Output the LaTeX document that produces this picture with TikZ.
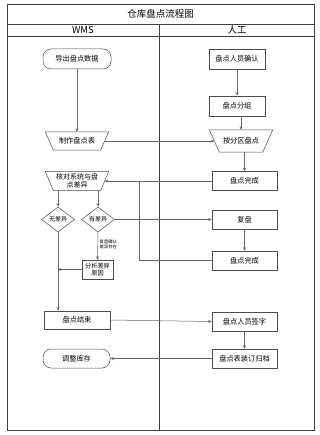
\documentclass[tikz,border=0pt]{standalone}
\usepackage{fontspec}
\setmainfont{Noto Sans CJK SC}
\usetikzlibrary{calc,arrows.meta,shapes.geometric}
\tikzset{
  frameline/.style={draw=black!75, line width=0.6pt},
  shapeline/.style={draw=black!70, line width=0.5pt},
  box/.style={shapeline, rectangle, minimum width=65pt, minimum height=19pt, inner sep=1pt, font=\fontsize{7.2}{8}\selectfont, align=center},
  stadium/.style={box, rounded corners=8pt},
  trap/.style={rectangle, minimum width=63pt, minimum height=18pt, inner sep=0pt, font=\fontsize{7.2}{8}\selectfont, align=center},
  dia/.style={shapeline, diamond, minimum width=33pt, minimum height=25pt, inner sep=0pt, font=\fontsize{6}{7}\selectfont},
  conn/.style={draw=black!60, line width=0.5pt},
  arr/.style={conn, -{Stealth[length=3.5pt,width=3pt]}},
  hdr/.style={font=\fontsize{9.5}{10}\selectfont}
}
\newcommand{\trapdraw}[2]{\draw[shapeline] (#1.north west) -- (#1.north east) -- ($(#1.south east)+(-#2,0)$) -- ($(#1.south west)+(#2,0)$) -- cycle;}
\begin{document}
\begin{tikzpicture}[x=1pt,y=-1pt]
\useasboundingbox (0,0) rectangle (319,435);
% frame
\draw[frameline] (7,4) rectangle (314,430);
\draw[frameline] (7,24) -- (314,24);
\draw[frameline] (7,36) -- (314,36);
\draw[frameline] (159,24) -- (159,430);
\node[hdr] (title) at (160.5,14) {仓库盘点流程图};
\node[hdr] (wms) at (83,30) {WMS};
\node[hdr] (manual) at (237,30) {人工};
% nodes
\node[stadium, minimum width=68pt, minimum height=20pt] (export) at (77,59) {导出盘点数据};
\node[box, minimum width=56pt, minimum height=20pt] (confirm) at (237,59) {盘点人员确认};
\node[box, minimum width=56pt, minimum height=20pt] (group) at (237,106) {盘点分组};
\node[trap] (maketable) at (77,141) {制作盘点表};
\node[trap, minimum height=22pt] (zone) at (241,141) {按分区盘点};
\node[box] (done1) at (244.5,181) {盘点完成};
\node[trap, minimum height=19pt, font=\fontsize{7}{7.6}\selectfont] (check) at (77,181) {核对系统与盘\\点差异};
\trapdraw{maketable}{8}
\trapdraw{zone}{10}
\trapdraw{check}{8}
\node[dia] (nodiff) at (58,219.5) {无差异};
\node[dia] (hasdiff) at (98,219.5) {有差异};
\node[box] (recheck) at (244.5,219.5) {复盘};
\node[box] (done2) at (244.5,260.5) {盘点完成};
\node[box, minimum width=31pt, font=\fontsize{6.2}{7}\selectfont] (analyze) at (97.5,269.5) {分析差异\\原因};
\node[anchor=west, inner sep=0pt, align=left, font=\fontsize{4.3}{4.8}\selectfont] (lbl) at (99.5,244) {复盘确认\\差异存在};
\node[box, minimum width=66pt, minimum height=18pt] (finish) at (77,320) {盘点结束};
\node[box] (sign) at (244.5,321.5) {盘点人员签字};
\node[box] (archive) at (244.5,358.5) {盘点表装订归档};
\node[stadium, minimum width=67pt] (adjust) at (76.5,358.5) {调整库存};
\coordinate (join) at (139,181);
% connectors
\draw[arr] (export) -- (maketable);
\draw[arr] (confirm) -- (group);
\draw[arr] (group.south -| zone.north) -- (zone.north);
\draw[arr] ($(maketable.east)+(-4,0)$) -- ($(zone.west)+(5,0)$);
\draw[arr] (zone.south -| done1.north) -- (done1.north);
\draw[arr] (done1.west) -- ($(check.east)+(-4,0)$);
\draw[conn] (done2.west) -| (join);
\draw[arr] (nodiff.north |- check.south) -- (nodiff.north);
\draw[arr] (hasdiff.north |- check.south) -- (hasdiff.north);
\draw[arr] (hasdiff.east) -- (recheck.west);
\draw[arr] (recheck) -- (done2);
\draw[arr] (hasdiff.south) -- (analyze.north);
\draw[arr] (analyze.west) -- (nodiff.south |- analyze.west);
\draw[arr] (nodiff.south) -- (nodiff.south |- finish.north);
\draw[arr] (finish.east) -- (sign.west);
\draw[arr] (sign) -- (archive);
\draw[arr] (archive.west) -- (adjust.east);
\end{tikzpicture}
\end{document}
